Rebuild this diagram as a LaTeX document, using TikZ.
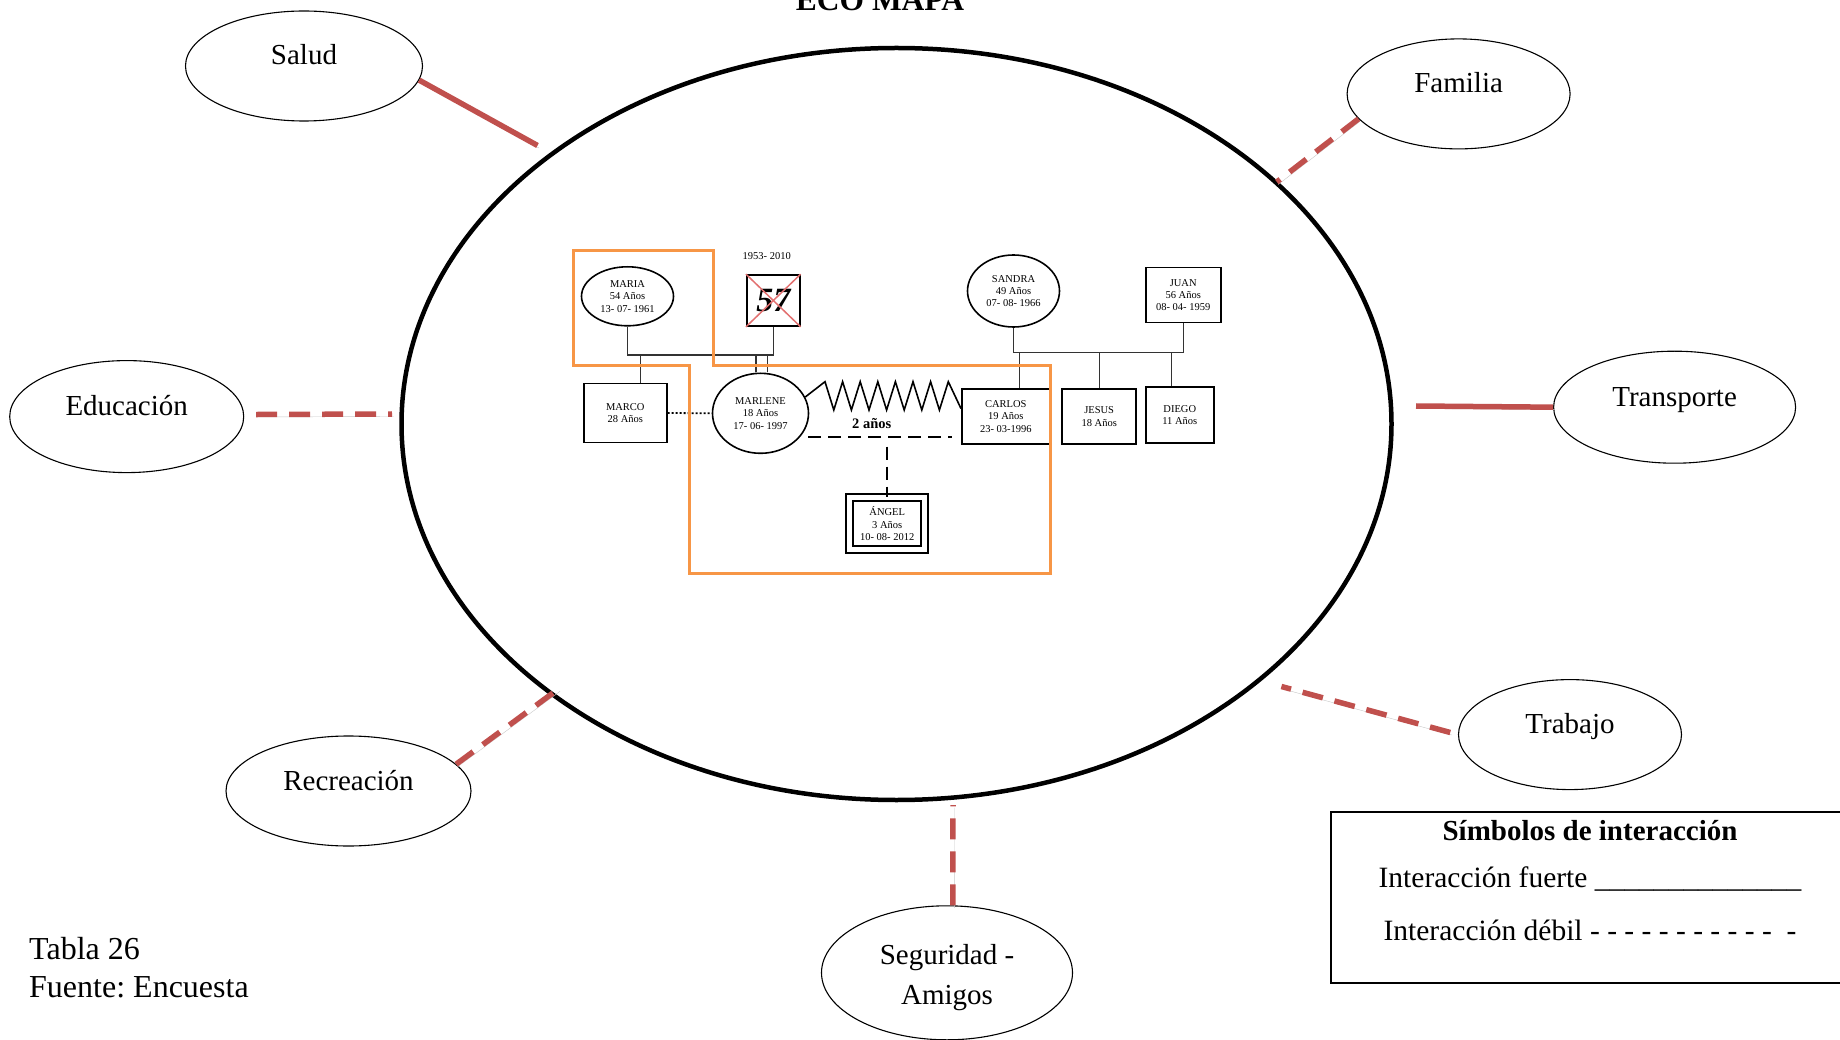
\documentclass[tikz,border=0pt]{standalone}
\usepackage{fontspec}
\setmainfont{Liberation Serif}
\frenchspacing
\usetikzlibrary{shapes.geometric, positioning}
\definecolor{ecoRed}{RGB}{192, 80, 77}
\definecolor{ecoOrange}{RGB}{247, 150, 70}
\definecolor{ecoCross}{RGB}{226, 112, 112}
\tikzset{
  Eco/.style    = {draw, ellipse, line width=4.5pt},
  Sat/.style    = {draw, ellipse, line width=1.1pt, font=\fontsize{29}{40}\selectfont, align=center},
  Up/.style     = {text height=20pt, text depth=22pt},
  Strong/.style = {ecoRed, line width=5.5pt,
                   preaction={draw=black!22, transform canvas={xshift=1.5pt, yshift=-2.5pt}}},
  Weak/.style   = {Strong, dash pattern=on 21pt off 12pt},
  Gen/.style    = {draw, line width=1.6pt, font=\fontsize{10.5}{12.3}\selectfont, align=center, inner sep=1pt},
  Fem/.style    = {Gen, ellipse},
  Masc/.style   = {Gen, rectangle},
  Txt/.style    = {font=\fontsize{10.5}{12.3}\selectfont},
  Link/.style   = {line width=1.1pt, black!80},
  Union/.style  = {line width=1.8pt, dash pattern=on 13pt off 7pt},
  Zone/.style   = {ecoOrange, line width=3pt},
}

\begin{document}
\begin{tikzpicture}[x=1pt, y=-1pt]
\useasboundingbox (0,0) rectangle (1840,1040);

% ======================= title and main circle ==========================
\node[font=\fontsize{31.5}{32}\selectfont\bfseries, anchor=base] (titulo) at (880,11) {ECO MAPA};
\node[Eco, minimum width=990pt, minimum height=752pt] (eco) at (896.5,424) {};

% ======================= outside systems ================================
\node[Sat, Up, minimum width=237pt, minimum height=110pt] (salud)      at (304,66)      {Salud};
\node[Sat, Up, minimum width=223pt, minimum height=110pt] (familia)    at (1458.6,93.9) {Familia};
\node[Sat, Up, minimum width=234pt, minimum height=112pt] (educacion)  at (126.7,416.6) {Educación};
\node[Sat, Up, minimum width=242pt, minimum height=112pt] (transporte) at (1674.6,407.2) {Transporte};
\node[Sat, Up, minimum width=245pt, minimum height=110pt] (recreacion) at (348.5,791)   {Recreación};
\node[Sat, Up, minimum width=223pt, minimum height=110pt] (trabajo)    at (1570,734.6)  {Trabajo};
\node[Sat, minimum width=251pt, minimum height=134pt]     (seguridad)  at (947,972.8)
  {\rule{0pt}{30pt}Seguridad -\\Amigos};

% red links, strong = solid, weak = dashed
\coordinate (eSalud)      at (537.5,145.5);
\coordinate (eFamilia)    at (1276.8,181.9);
\coordinate (eEducacion)  at (392,414);
\coordinate (eTransporte) at (1416,406);
\coordinate (eRecreacion) at (558.6,688.8);
\coordinate (eTrabajo)    at (1281.4,686.5);
\coordinate (eSeguridad)  at (953,805);
\draw[Strong] (salud.-7) -- (eSalud);
\draw[Weak] (familia.194) -- (eFamilia);
\draw[Weak, shorten <=12pt] (educacion.1) -- (eEducacion);
\draw[Strong] (transporte.west) -- (eTransporte);
\draw[Weak] (recreacion.14) -- (eRecreacion);
\draw[Weak, shorten <=8pt] (trabajo.west) -- (eTrabajo);
\draw[Weak] (seguridad.85) -- (eSeguridad);

% ======================= genogram =======================================
\node[Fem, minimum width=92pt, minimum height=59pt] (maria) at (627.5,296.3) {MARIA\\54 Años\\13- 07- 1961};
\node[Masc, minimum width=53pt, minimum height=51pt, inner sep=0pt,
      font=\fontsize{34}{34}\selectfont\bfseries\itshape] (muerto) at (773.3,300.5) {57};
\node[Txt] (anios) at (766.7,256) {1953- 2010};
\draw[ecoCross, line width=1.5pt] (muerto.north west) -- (muerto.south east)
                                  (muerto.north east) -- (muerto.south west);
\node[Masc, minimum width=83pt, minimum height=59pt] (marco) at (625.3,413) {MARCO\\28 Años};
\node[Fem, minimum width=96pt, minimum height=80pt] (marlene) at (760.5,413.3) {MARLENE\\18 Años\\17- 06- 1997};
\node[Masc, minimum width=88pt, minimum height=55pt] (carlos) at (1005.8,416.5) {CARLOS\\19 Años\\23- 03-1996};
\node[Masc, double, double distance=5pt, line width=1.8pt, minimum width=75pt, minimum height=52pt]
      (angel) at (887.2,523.7) {ÁNGEL\\3 Años\\10- 08- 2012};
\node[Fem, minimum width=92pt, minimum height=72pt] (sandra) at (1013.5,291) {SANDRA\\49 Años\\07- 08- 1966};
\node[Masc, minimum width=75pt, minimum height=55pt] (juan) at (1183.2,295) {JUAN\\56 Años\\08- 04- 1959};
\node[Masc, minimum width=74pt, minimum height=55pt] (jesus) at (1099.2,416.7) {JESUS\\18 Años};
\node[Masc, minimum width=68pt, minimum height=56pt] (diego) at (1179.8,415.3) {DIEGO\\11 Años};

% family lines
\coordinate (barMaria)  at (700,355);
\coordinate (barSandra) at (1100,352.3);
\draw[Link] (maria.south) |- (barMaria) -| (muerto.south);
\draw[Link] ([xshift=15pt]marco.north) -- ([xshift=15pt]marco.north |- barMaria);
\draw[Link] ([xshift=-4.5pt]marlene.north) -- ([xshift=-4.5pt]marlene.north |- barMaria);
\draw[Link] ([xshift=6.8pt]marlene.north) -- ([xshift=6.8pt]marlene.north |- barMaria);
\draw[Link] (sandra.south) |- (barSandra) -| (juan.south);
\draw[Link] ([xshift=14pt]carlos.north) -- ([xshift=14pt]carlos.north |- barSandra);
\draw[Link] (jesus.north) -- (jesus.north |- barSandra);
\draw[Link] ([xshift=-8pt]diego.north) -- ([xshift=-8pt]diego.north |- barSandra);
\draw[line width=1.8pt, dash pattern=on 2pt off 2pt] (marco.east) -- (marlene.west);

% conflict and union
\draw[line width=1.6pt] (marlene.20)
  foreach \k in {0,...,6} { -- (825+17.6*\k,381.7) -- (833.8+17.6*\k,410) }
  -- (948.3,381.7) -- (carlos.170);
\node[font=\fontsize{14.5}{15}\selectfont\bfseries] (dosAnos) at (871.7,423.3) {2 años};
\coordinate (unionL) at (808,436.7);
\coordinate (unionR) at (951.7,436.7);
\coordinate (unionM) at (887.2,446.7);
\draw[Union] (unionL) -- (unionR);
\draw[Union] (unionM) -- (angel.north);

% household outline
\draw[Zone] (573,251) -- (713,251) -- (713,366) -- (1050,366) -- (1050,573)
            -- (689,573) -- (689,366) -- (573,366) -- cycle;

% ======================= legend and source ==============================
\node[draw, line width=1.5pt, anchor=north west, minimum width=520pt, minimum height=171pt] (leyenda) at (1330,811) {};
\node[font=\fontsize{29}{34}\selectfont\bfseries] (leyTitulo) at (1590,831) {Símbolos de interacción};
\node[font=\fontsize{29.5}{34}\selectfont] (leyFuerte) at (1590,879)
  {Interacción fuerte \_\_\_\_\_\_\_\_\_\_\_\_\_\_};
\node[font=\fontsize{29.5}{34}\selectfont] (leyDebil) at (1590,930)
  {Interacción débil - - - - - - - - - - -\ \ -};
\node[font=\fontsize{32}{37.6}\selectfont, align=left, anchor=north west, inner sep=0pt] (fuente) at (29,937)
  {Tabla 26\\Fuente: Encuesta};

\end{tikzpicture}
\end{document}
